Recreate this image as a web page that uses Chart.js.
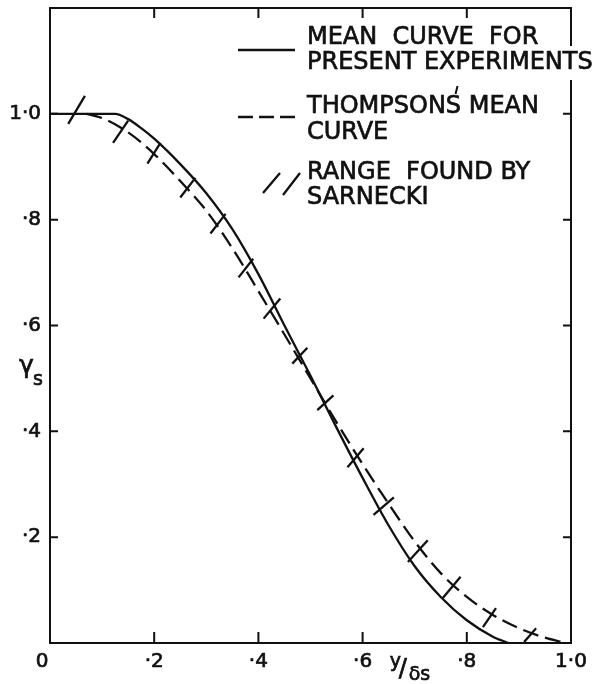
<!DOCTYPE html>
<html>
<head>
<meta charset="utf-8">
<script src="https://cdn.jsdelivr.net/npm/chart.js@4.4.1/dist/chart.umd.min.js"></script>
<style>
  html, body { margin: 0; padding: 0; background: #fff; }
  #wrap { width: 609px; height: 684px; position: relative; }
</style>
</head>
<body>
<div id="wrap"><canvas id="profileChart"></canvas></div>
<script>
// mean curve for present experiments
const meanX = [0, 0.125, 0.15, 0.175, 0.2, 0.25, 0.3, 0.35, 0.4, 0.45, 0.5, 0.55, 0.6, 0.65, 0.7, 0.75, 0.8, 0.85, 0.88];
const meanY = [1.0, 1.0, 0.99, 0.973, 0.953, 0.905, 0.850, 0.782, 0.697, 0.600, 0.505, 0.407, 0.312, 0.222, 0.145, 0.087, 0.043, 0.012, 0];

// Thompson's mean curve
const thompsonX = [0.07, 0.1, 0.15, 0.2, 0.25, 0.3, 0.35, 0.4, 0.45, 0.5, 0.55, 0.6, 0.65, 0.7, 0.75, 0.8, 0.85, 0.9, 0.95, 0.99];
const thompsonY = [1.0, 0.992, 0.965, 0.924, 0.873, 0.817, 0.746, 0.665, 0.583, 0.500, 0.417, 0.338, 0.263, 0.192, 0.132, 0.087, 0.053, 0.028, 0.010, 0];

// Sarnecki's range, one short bar per station (low end -> high end)
const sarneckiLow = [[0.035, 0.981], [0.121, 0.945], [0.187, 0.906], [0.250, 0.842], [0.308, 0.774], [0.362, 0.691], [0.410, 0.613], [0.465, 0.528], [0.513, 0.440], [0.571, 0.332], [0.621, 0.242], [0.687, 0.153], [0.754, 0.085], [0.831, 0.030], [0.910, 0.002]];
const sarneckiHigh = [[0.067, 1.034], [0.150, 0.987], [0.212, 0.945], [0.279, 0.879], [0.337, 0.811], [0.390, 0.726], [0.442, 0.651], [0.494, 0.558], [0.544, 0.468], [0.602, 0.368], [0.660, 0.275], [0.725, 0.194], [0.788, 0.125], [0.856, 0.066], [0.933, 0.028]];

const xTicks = [0, 0.2, 0.4, 0.6, 0.8, 1.0];
const xTickLabels = ['0', '·2', '·4', '·6', '·8', '1·0'];
const yTicks = [0.2, 0.4, 0.6, 0.8, 1.0];
const yTickLabels = ['·2', '·4', '·6', '·8', '1·0'];

const legendLines = [
  ['MEAN  CURVE  FOR', 'PRESENT EXPERIMENTS'],
  ['THOMPSONS MEAN', 'CURVE'],
  ['RANGE  FOUND BY', 'SARNECKI'],
];

const INK = '#111';
const FONT = "'DejaVu Sans', sans-serif";

const toPoints = (xs, ys) => xs.map((v, i) => ({ x: v, y: ys[i] }));

const datasets = [
  {
    data: toPoints(meanX, meanY),
    borderColor: INK,
    borderWidth: 2.3,
    cubicInterpolationMode: 'monotone',
  },
  {
    data: toPoints(thompsonX, thompsonY),
    borderColor: INK,
    borderWidth: 2.3,
    borderDash: [16, 7],
    cubicInterpolationMode: 'monotone',
  },
];
sarneckiLow.forEach((lo, i) => {
  const hi = sarneckiHigh[i];
  datasets.push({
    data: [{ x: lo[0], y: lo[1] }, { x: hi[0], y: hi[1] }],
    borderColor: INK,
    borderWidth: 2.3,
    tension: 0,
  });
});

// lettering is a bit heavier than the plain face, so outline it thinly
function letter(ctx, txt, px, py) {
  ctx.fillText(txt, px, py);
  ctx.strokeText(txt, px, py);
}

const framePlugin = {
  id: 'frame',
  afterDatasetsDraw(chart) {
    const { ctx, chartArea: a, scales: { x, y } } = chart;
    ctx.save();
    ctx.strokeStyle = INK;
    ctx.fillStyle = INK;
    ctx.lineWidth = 2;
    ctx.strokeRect(a.left, a.top, a.right - a.left, a.bottom - a.top);

    // inward tick marks on all four sides
    ctx.beginPath();
    xTicks.slice(1, -1).forEach(v => {
      const px = x.getPixelForValue(v);
      ctx.moveTo(px, a.bottom); ctx.lineTo(px, a.bottom - 11);
      ctx.moveTo(px, a.top); ctx.lineTo(px, a.top + 10);
    });
    yTicks.forEach(v => {
      const py = y.getPixelForValue(v);
      ctx.moveTo(a.left, py); ctx.lineTo(a.left + 8, py);
      ctx.moveTo(a.right, py); ctx.lineTo(a.right - 8, py);
    });
    ctx.stroke();

    ctx.lineWidth = 0.7;

    // tick labels
    ctx.font = '20px ' + FONT;
    ctx.textBaseline = 'middle';
    ctx.textAlign = 'center';
    xTicks.forEach((v, i) => {
      const shift = i === 0 ? -8 : 0;
      letter(ctx, xTickLabels[i], x.getPixelForValue(v) + shift, a.bottom + 19);
    });
    ctx.textAlign = 'right';
    yTicks.forEach((v, i) => {
      letter(ctx, yTickLabels[i], a.left - 9, y.getPixelForValue(v));
    });

    // axis titles
    ctx.textAlign = 'left';
    ctx.textBaseline = 'alphabetic';
    const gy = y.getPixelForValue(0.51);
    ctx.font = '25px ' + FONT;
    letter(ctx, 'γ', a.left - 31, gy);
    ctx.font = '19px ' + FONT;
    letter(ctx, 's', a.left - 17, gy + 12);

    const lx = x.getPixelForValue(0.652);
    ctx.font = '19px ' + FONT;
    letter(ctx, 'y', lx, a.bottom + 24);
    ctx.font = '24px ' + FONT;
    letter(ctx, '/', lx + 9, a.bottom + 33);
    ctx.font = '19px ' + FONT;
    letter(ctx, 'δs', lx + 19, a.bottom + 37);

    // key, top right
    ctx.textBaseline = 'middle';
    const tx = a.left + 257;
    const rows = [[38, 63], [107, 133], [173, 198]];
    ctx.font = '24px ' + FONT;
    legendLines.forEach((pair, i) => {
      pair.forEach((txt, j) => {
        const ty = rows[i][j];
        const w = ctx.measureText(txt).width;
        ctx.fillStyle = '#fff';
        ctx.fillRect(tx - 3, ty - 17, w + 6, 34);
        ctx.fillStyle = INK;
        letter(ctx, txt, tx, ty);
      });
    });
    // mark over the final S of THOMPSONS
    const sx = tx + ctx.measureText('THOMPSON').width + ctx.measureText('S').width * 0.7;
    ctx.lineWidth = 2;
    ctx.beginPath();
    ctx.moveTo(sx + 1, rows[1][0] - 21);
    ctx.lineTo(sx - 1, rows[1][0] - 13);
    ctx.stroke();

    ctx.lineWidth = 2.3;
    ctx.beginPath();
    ctx.moveTo(tx - 69, 50); ctx.lineTo(tx - 12, 50);
    ctx.stroke();
    ctx.setLineDash([15, 6]);
    ctx.beginPath();
    ctx.moveTo(tx - 69, 117); ctx.lineTo(tx - 12, 117);
    ctx.stroke();
    ctx.setLineDash([]);
    ctx.beginPath();
    ctx.moveTo(tx - 44, 193); ctx.lineTo(tx - 27, 173);
    ctx.moveTo(tx - 24, 195); ctx.lineTo(tx - 7, 173);
    ctx.stroke();
    ctx.restore();
  }
};

new Chart(document.getElementById('profileChart'), {
  type: 'line',
  data: { datasets },
  options: {
    responsive: true,
    maintainAspectRatio: false,
    animation: false,
    layout: { padding: { left: 50, right: 38, top: 8, bottom: 41 } },
    elements: { point: { radius: 0 }, line: { fill: false } },
    plugins: { legend: { display: false }, tooltip: { enabled: false } },
    scales: {
      x: { type: 'linear', min: 0, max: 1, display: false },
      y: { type: 'linear', min: 0, max: 1.2, display: false },
    },
  },
  plugins: [framePlugin],
});
</script>
</body>
</html>
